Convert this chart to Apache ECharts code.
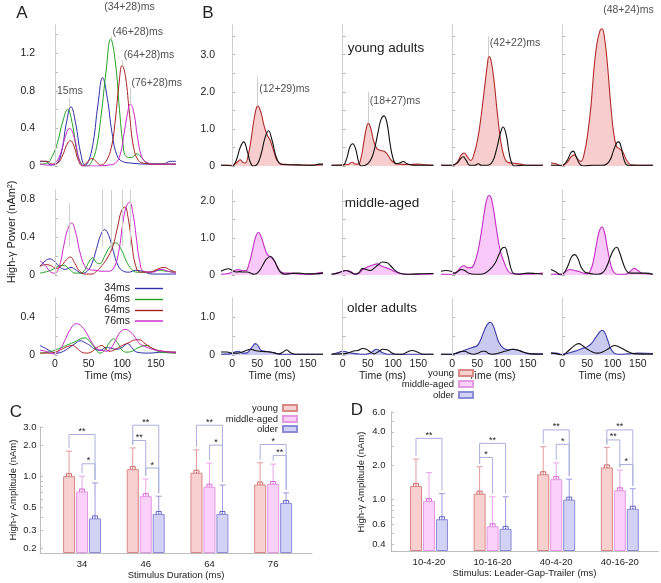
<!DOCTYPE html>
<html><head><meta charset="utf-8">
<script src="https://cdn.jsdelivr.net/npm/echarts@6/dist/echarts.min.js"></script>
<style>html,body{margin:0;padding:0;background:#fff}#c{width:661px;height:583px}</style>
</head><body><div id="c"></div>
<script>
// ---------------- DATA ----------------
const T_MIN = -22, T_MAX = 180;
const TIME_LABELS = [0, 50, 100, 150];
const A_NAMES = ['34ms', '46ms', '64ms', '76ms'];
const A_MAX = [1.5, 0.9, 0.6];
const A_YTICKS = [[0,0.2,0.4,0.6,0.8,1.0,1.2,1.4],[0,0.2,0.4,0.6,0.8],[0,0.2,0.4]];
const A_YLABELS = [[0,0.4,0.8,1.2],[0,0.4,0.8],[0,0.4]];
const B_MAX = [3.8, 2.3, 1.5];
const B_YTICKS = [[0,0.5,1,1.5,2,2.5,3,3.5],[0,0.5,1,1.5,2],[0,0.5,1]];
const B_YLABELS = [[0,1,2,3],[0,1,2],[0,1]];
const B_GROUPS = ['young adults', 'middle-aged', 'older adults'];

// Panel A curves [time ms, power]
const A1_34 = [[-22,0.05],[-14,0.05],[-6,0.01],[2,0.02],[10,0.15],[17,0.45],[24,0.63],[31,0.45],[38,0.15],[45,0.01],[50,0.05],[57,0.25],[64,0.65],[71,0.94],[78,0.72],[85,0.35],[92,0.12],[100,0.05],[115,0.03],[140,0.02],[160,0.02],[172,0.05],[180,0.05]];
const A1_46 = [[-22,0.02],[-12,0.03],[-4,0.1],[4,0.25],[11,0.45],[19,0.6],[26,0.45],[33,0.15],[40,0.02],[48,0.0],[55,0.05],[62,0.2],[69,0.55],[76,1.0],[83,1.35],[90,1.1],[96,0.6],[101,0.25],[106,0.1],[114,0.09],[122,0.13],[130,0.08],[138,0.03],[160,0.02],[180,0.02]];
const A1_64 = [[-22,0.05],[-12,0.05],[-4,0.02],[4,0.03],[12,0.12],[18,0.23],[23,0.27],[29,0.2],[35,0.06],[41,0.0],[48,0.04],[55,0.08],[61,0.05],[68,0.01],[76,0.05],[84,0.2],[90,0.5],[95,0.85],[100,1.07],[105,0.95],[111,0.55],[117,0.2],[124,0.06],[132,0.03],[150,0.02],[180,0.02]];
const A1_76 = [[-22,0.02],[-10,0.01],[0,0.03],[8,0.12],[15,0.3],[22,0.4],[29,0.3],[36,0.08],[43,0.0],[60,0.0],[80,0.01],[90,0.03],[97,0.12],[103,0.35],[108,0.56],[112,0.66],[117,0.58],[123,0.3],[129,0.1],[136,0.04],[150,0.02],[180,0.02]];
const A2_34 = [[-22,0.09],[-14,0.15],[-7,0.17],[0,0.14],[8,0.08],[16,0.06],[24,0.08],[32,0.05],[40,0.02],[48,0.04],[55,0.12],[62,0.28],[68,0.42],[74,0.48],[80,0.42],[87,0.25],[94,0.1],[102,0.04],[110,0.03],[120,0.05],[130,0.04],[145,0.01],[180,0.01]];
const A2_46 = [[-22,0.02],[-10,0.04],[0,0.07],[8,0.1],[14,0.1],[22,0.06],[30,0.02],[38,0.02],[45,0.06],[50,0.13],[56,0.18],[62,0.13],[67,0.12],[74,0.2],[82,0.3],[90,0.34],[98,0.28],[106,0.15],[114,0.06],[122,0.03],[140,0.03],[155,0.05],[165,0.04],[180,0.03]];
const A2_64 = [[-22,0.09],[-14,0.11],[-6,0.1],[2,0.07],[10,0.1],[17,0.16],[23,0.19],[30,0.12],[37,0.04],[45,0.01],[55,0.01],[62,0.04],[70,0.1],[78,0.18],[86,0.3],[93,0.5],[99,0.68],[104,0.72],[109,0.6],[114,0.35],[120,0.1],[127,0.03],[140,0.03],[152,0.06],[162,0.08],[172,0.05],[180,0.03]];
const A2_76 = [[-22,0.15],[-14,0.1],[-6,0.03],[0,0.02],[7,0.1],[13,0.3],[19,0.48],[25,0.55],[31,0.45],[37,0.25],[44,0.1],[50,0.06],[60,0.05],[70,0.04],[80,0.04],[88,0.08],[95,0.25],[101,0.55],[106,0.72],[111,0.77],[116,0.65],[121,0.4],[126,0.15],[132,0.04],[145,0.03],[158,0.06],[168,0.04],[180,0.02]];
const A3_34 = [[-22,0.1],[-14,0.07],[-6,0.04],[2,0.02],[10,0.03],[20,0.07],[30,0.12],[38,0.15],[45,0.13],[52,0.1],[60,0.06],[68,0.05],[76,0.08],[84,0.07],[92,0.06],[100,0.08],[108,0.12],[114,0.08],[122,0.03],[140,0.02],[160,0.03],[180,0.03]];
const A3_46 = [[-22,0.02],[-10,0.03],[0,0.05],[10,0.08],[20,0.11],[30,0.14],[38,0.17],[45,0.18],[52,0.14],[60,0.07],[67,0.02],[74,0.05],[81,0.13],[87,0.17],[93,0.13],[100,0.05],[107,0.03],[115,0.04],[125,0.08],[137,0.1],[147,0.06],[158,0.03],[180,0.02]];
const A3_64 = [[-22,0.02],[-10,0.02],[0,0.03],[10,0.06],[19,0.09],[26,0.1],[33,0.07],[40,0.03],[48,0.02],[56,0.04],[63,0.08],[70,0.1],[76,0.06],[82,0.04],[90,0.06],[100,0.1],[110,0.13],[120,0.16],[126,0.16],[134,0.12],[145,0.07],[160,0.04],[180,0.03]];
const A3_76 = [[-22,0.05],[-14,0.04],[-6,0.02],[0,0.01],[8,0.06],[16,0.17],[24,0.28],[32,0.33],[40,0.3],[48,0.22],[56,0.12],[64,0.06],[70,0.05],[76,0.04],[82,0.06],[90,0.15],[97,0.24],[104,0.27],[111,0.25],[118,0.2],[126,0.12],[134,0.09],[145,0.06],[160,0.04],[180,0.02]];

// Panel A annotations (latency lines)
const A_ANN_TEXT = ['15ms', '(34+28)ms', '(46+28)ms', '(64+28)ms', '(76+28)ms'];
const A_ANN_T = [21.5, 71.1, 83.5, 100.3, 111.7];
const A_ANN_LINE = [[0.63,0.73],[0.94,1.77],[1.35,1.38],[1.07,1.13],[0.66,0.83]];
const A_ANN_LABEL_T = [22.3, 71.1, 83.5, 100.3, 111.7];
const A_ANN_LABEL_V = [0.80, 1.69, 1.42, 1.18, 0.88];
const A2_LAT_T = [21.5, 71.1, 83.5, 100.3, 111.7];
const A2_LAT_V = [[0.3,0.76],[0.3,0.9],[0.3,0.9],[0.3,0.9],[0.3,0.9]];

// Panel B curves: colored (group) and black
const B1c1_col = [[-22,0.02],[0,0.02],[10,0.1],[16,0.17],[21,0.1],[26,0.08],[32,0.3],[38,0.75],[44,1.3],[51,1.62],[57,1.45],[63,1.1],[69,0.85],[75,0.7],[82,0.42],[89,0.15],[97,0.06],[110,0.04],[140,0.02],[180,0.03]];
const B1c1_blk = [[-22,0.02],[-10,0.02],[0,0.0],[8,0.15],[16,0.5],[23,0.65],[30,0.4],[36,0.1],[42,0.0],[50,0.05],[58,0.35],[65,0.75],[72,0.95],[79,0.7],[86,0.3],[93,0.08],[100,0.04],[130,0.03],[160,0.02],[172,0.05],[180,0.05]];
const B1c2_col = [[-22,0.02],[10,0.04],[19,0.1],[25,0.05],[31,0.05],[37,0.25],[42,0.65],[47,1.02],[51,1.15],[56,1.0],[62,0.65],[68,0.47],[75,0.42],[82,0.4],[88,0.33],[95,0.18],[103,0.08],[112,0.05],[130,0.04],[150,0.05],[165,0.03],[180,0.02]];
const B1c2_blk = [[-22,0.02],[0,0.02],[8,0.2],[14,0.5],[20,0.6],[26,0.45],[32,0.1],[37,0.0],[45,0.02],[55,0.15],[63,0.45],[70,0.9],[76,1.25],[82,1.35],[88,1.15],[94,0.6],[100,0.2],[106,0.06],[113,0.08],[120,0.12],[128,0.06],[140,0.02],[180,0.02]];
const B1c3_col = [[-22,0.02],[0,0.02],[10,0.1],[18,0.3],[24,0.35],[30,0.25],[37,0.15],[44,0.35],[51,0.75],[58,1.4],[65,2.2],[70,2.75],[73,2.95],[77,2.85],[83,2.3],[89,1.5],[96,0.7],[103,0.25],[110,0.1],[120,0.08],[135,0.05],[150,0.02],[180,0.02]];
const B1c3_blk = [[-22,0.02],[0,0.02],[10,0.08],[17,0.2],[22,0.25],[28,0.15],[35,0.02],[45,0.02],[52,0.06],[58,0.02],[70,0.02],[80,0.12],[88,0.45],[95,0.85],[101,1.05],[107,0.85],[113,0.35],[119,0.05],[125,0.0],[140,0.02],[180,0.02]];
const B1c4_col = [[-22,0.08],[-12,0.06],[-2,0.0],[10,0.1],[18,0.25],[24,0.3],[30,0.2],[37,0.12],[44,0.35],[51,0.9],[57,1.6],[63,2.6],[69,3.3],[75,3.65],[79,3.7],[84,3.45],[90,2.7],[96,1.7],[102,0.9],[108,0.52],[114,0.46],[120,0.38],[128,0.15],[137,0.03],[150,0.02],[180,0.02]];
const B1c4_blk = [[-22,0.02],[0,0.02],[10,0.15],[17,0.35],[22,0.4],[28,0.25],[35,0.05],[42,0.0],[60,0.02],[80,0.02],[93,0.12],[102,0.42],[108,0.62],[112,0.65],[117,0.5],[123,0.15],[130,0.02],[150,0.02],[180,0.02]];
const B2c1_col = [[-22,0.02],[-8,0.04],[4,0.11],[12,0.15],[20,0.12],[27,0.12],[33,0.28],[40,0.65],[46,1.0],[52,1.15],[58,1.02],[64,0.75],[70,0.55],[77,0.48],[84,0.38],[90,0.22],[97,0.08],[105,0.05],[120,0.05],[140,0.02],[160,0.03],[172,0.06],[180,0.07]];
const B2c1_blk = [[-22,0.1],[-14,0.15],[-7,0.17],[0,0.13],[8,0.08],[15,0.09],[22,0.08],[30,0.08],[37,0.05],[44,0.02],[52,0.08],[60,0.25],[68,0.43],[76,0.5],[83,0.4],[90,0.2],[97,0.06],[105,0.02],[118,0.04],[132,0.05],[148,0.03],[165,0.03],[180,0.05]];
const B2c2_col = [[-22,0.02],[-10,0.06],[0,0.1],[6,0.12],[15,0.1],[25,0.03],[32,0.05],[40,0.15],[50,0.22],[60,0.27],[68,0.3],[76,0.25],[85,0.2],[95,0.15],[105,0.08],[115,0.04],[130,0.02],[160,0.02],[180,0.03]];
const B2c2_blk = [[-22,0.02],[-10,0.05],[0,0.1],[6,0.12],[15,0.08],[25,0.02],[32,0.06],[40,0.18],[47,0.15],[55,0.12],[62,0.18],[70,0.27],[79,0.35],[87,0.34],[95,0.25],[105,0.11],[115,0.04],[125,0.02],[150,0.03],[180,0.04]];
const B2c3_col = [[-22,0.02],[0,0.02],[10,0.1],[18,0.22],[24,0.25],[30,0.2],[38,0.2],[45,0.35],[52,0.7],[59,1.25],[65,1.8],[70,2.1],[74,2.15],[78,2.05],[84,1.6],[90,1.05],[96,0.62],[102,0.38],[109,0.15],[117,0.04],[135,0.03],[160,0.03],[180,0.05]];
const B2c3_blk = [[-22,0.1],[-12,0.12],[-2,0.1],[5,0.05],[12,0.1],[18,0.15],[25,0.12],[33,0.05],[45,0.02],[55,0.02],[65,0.05],[75,0.15],[85,0.32],[93,0.56],[99,0.72],[104,0.75],[110,0.55],[116,0.2],[122,0.04],[130,0.02],[150,0.05],[165,0.04],[180,0.02]];
const B2c4_col = [[-22,0.02],[0,0.03],[8,0.1],[15,0.15],[25,0.12],[32,0.1],[40,0.06],[50,0.03],[57,0.15],[63,0.45],[69,0.9],[74,1.2],[79,1.3],[84,1.15],[90,0.7],[96,0.3],[102,0.08],[110,0.02],[125,0.02],[135,0.1],[143,0.18],[150,0.12],[160,0.04],[180,0.02]];
const B2c4_blk = [[-22,0.15],[-12,0.08],[-2,0.0],[6,0.1],[13,0.3],[19,0.5],[25,0.55],[31,0.45],[38,0.2],[45,0.08],[52,0.05],[60,0.03],[70,0.02],[80,0.06],[88,0.22],[95,0.47],[102,0.68],[108,0.75],[114,0.6],[120,0.35],[127,0.12],[134,0.05],[150,0.05],[165,0.05],[180,0.02]];
const B3c1_col = [[-22,0.02],[-5,0.03],[5,0.08],[13,0.1],[20,0.05],[28,0.05],[36,0.15],[42,0.25],[46,0.3],[51,0.25],[58,0.12],[66,0.1],[75,0.08],[85,0.05],[95,0.02],[110,0.02],[140,0.02],[180,0.02]];
const B3c1_blk = [[-22,0.08],[-10,0.08],[0,0.05],[10,0.05],[20,0.08],[30,0.13],[36,0.15],[45,0.12],[55,0.1],[65,0.09],[75,0.08],[85,0.05],[93,0.03],[100,0.07],[108,0.13],[116,0.06],[125,0.02],[140,0.02],[160,0.02],[180,0.02]];
const B3c2_col = [[-22,0.02],[-10,0.06],[0,0.1],[8,0.08],[18,0.05],[30,0.03],[45,0.02],[55,0.05],[62,0.12],[67,0.15],[73,0.12],[80,0.05],[90,0.02],[120,0.02],[180,0.02]];
const B3c2_blk = [[-22,0.02],[-5,0.03],[10,0.05],[20,0.1],[30,0.12],[40,0.17],[47,0.15],[55,0.08],[62,0.03],[70,0.08],[80,0.15],[88,0.14],[97,0.06],[105,0.02],[118,0.02],[128,0.08],[138,0.12],[148,0.08],[160,0.02],[180,0.02]];
const B3c3_col = [[-22,0.02],[0,0.02],[10,0.06],[20,0.1],[30,0.15],[40,0.2],[50,0.25],[58,0.45],[66,0.72],[72,0.84],[76,0.86],[81,0.78],[87,0.55],[93,0.32],[100,0.2],[110,0.14],[120,0.15],[132,0.12],[145,0.06],[160,0.03],[180,0.03]];
const B3c3_blk = [[-22,0.02],[0,0.02],[10,0.05],[18,0.09],[25,0.1],[33,0.05],[42,0.02],[52,0.05],[60,0.1],[65,0.1],[72,0.04],[80,0.02],[90,0.04],[100,0.08],[110,0.12],[120,0.15],[128,0.14],[140,0.08],[155,0.03],[180,0.02]];
const B3c4_col = [[-22,0.05],[-12,0.05],[0,0.02],[10,0.04],[20,0.08],[30,0.12],[40,0.17],[50,0.22],[58,0.3],[66,0.45],[73,0.58],[79,0.65],[84,0.6],[90,0.4],[96,0.18],[103,0.05],[112,0.02],[130,0.03],[150,0.05],[180,0.04]];
const B3c4_blk = [[-22,0.05],[-10,0.03],[0,0.0],[10,0.08],[20,0.2],[28,0.28],[33,0.3],[40,0.25],[50,0.15],[60,0.08],[70,0.05],[80,0.08],[90,0.15],[98,0.22],[104,0.25],[112,0.22],[122,0.15],[132,0.08],[145,0.03],[180,0.02]];

// Panel B annotations (young adults row)
const B_ANN_TEXT = ['(12+29)ms', '(18+27)ms', '(42+22)ms', '(48+24)ms'];
const B_ANN_T = [50.7, 50.9, 71.7, 78.4];
const B_ANN_LINE = [[1.62,2.41],[1.15,2.0],[2.95,3.49],[3.7,4.47]];
const B_ANN_LABEL_V = [2.07, 1.76, 3.31, 4.19];

// Panel C (log scale bars)
const C_CATS = ['34', '46', '64', '76'];
const C_YOUNG = [1.0, 1.17, 1.08, 0.83];
const C_YOUNG_ERR = [1.75, 1.88, 1.8, 1.35];
const C_MIDDLE = [0.71, 0.64, 0.79, 0.84];
const C_MIDDLE_ERR = [1.0, 0.94, 1.34, 1.31];
const C_OLDER = [0.39, 0.43, 0.43, 0.55];
const C_OLDER_ERR = [0.86, 0.64, 0.82, 0.69];
const C_SIG = [['*','**','*'],['**','**','ns'],['**','**','ns'],['*','**','*']];
const C_BRACKETS = [[1,0,2,2.54,'**'],[1,1,2,1.32,'*'],[2,0,2,3.12,'**'],[2,0,1,2.22,'**'],[2,1,2,1.2,'*'],[3,0,2,3.12,'**'],[3,1,2,2.0,'*'],[4,0,2,2.03,'*'],[4,1,2,1.59,'**']];
const C_YTICKS = [0.2,0.3,0.4,0.5,0.6,0.7,0.8,0.9,1,2,3];
const C_YLABELS = [0.2,0.3,0.5,1,2,3];

// Panel D (log scale bars)
const D_CATS = ['10-4-20', '10-16-20', '40-4-20', '40-16-20'];
const D_YOUNG = [1.32, 1.13, 1.68, 1.93];
const D_YOUNG_ERR = [2.29, 1.96, 2.95, 2.91];
const D_MIDDLE = [0.97, 0.58, 1.52, 1.21];
const D_MIDDLE_ERR = [1.74, 1.06, 2.12, 1.83];
const D_OLDER = [0.67, 0.55, 1.0, 0.83];
const D_OLDER_ERR = [1.13, 1.06, 1.52, 1.25];
const D_SIG = [['**','*','ns'],['*','ns','ns'],['**','**','**'],['**','**','**']];
const D_BRACKETS = [[1,0,2,3.5,'**'],[2,0,2,3.16,'**'],[2,0,1,2.37,'*'],[3,0,2,4.16,'**'],[3,1,2,3.1,'*'],[4,0,2,4.16,'**'],[4,0,1,3.39,'**'],[4,1,2,2.05,'*']];
const D_YTICKS = [0.4,0.5,0.6,0.7,0.8,0.9,1,2,3,4,5,6];
const D_YLABELS = [0.4,0.6,1,2,4,6];

// ---------------- STYLE / LAYOUT ----------------
const FONT = '"Liberation Sans", Arial, Helvetica, sans-serif';
const TXT = '#222';
const ROWS = [{top:25,height:141},{top:190,height:85},{top:298,height:57}];
const A_LEFT = 40, A_W = 136;
const B_LEFTS = [221, 331.5, 441, 551], B_W = 102;
const A_COLORS = ['#2e2ea6', '#22a022', '#a82222', '#c824c8'];
const B_STYLE = [{line:'#b02c2c', fill:'#f8cdcd'}, {line:'#c22fc2', fill:'#f9caf9'}, {line:'#3a3aa8', fill:'#cacaf1'}];
const AGE = [
  {name:'young', fill:'#f9d0d0', border:'#d98888', errc:'#e39a9a', mk:'#d06262'},
  {name:'middle-aged', fill:'#fbd0fb', border:'#e29ae2', errc:'#e8a4e8', mk:'#d862d8'},
  {name:'older', fill:'#d2d2f6', border:'#8c8cd8', errc:'#9a9ae0', mk:'#6262c8'}
];
const BAR_STEP = 13;
const BR_COLOR = '#aab0dc';
const GRAY_LINE = '#cfcfcf';

const grids = [], xAxes = [], yAxes = [], series = [], legends = [], graphics = [];
const fmtY = v => (Math.abs(v) < 1e-9 ? '0' : v.toFixed(1));

function addGrid(left, top, width, height) { grids.push({left, top, width, height}); return grids.length - 1; }

function addTimePanel(left, width, row, ymax, yticks, ylabels, showY, showX, ymargin) {
  const gi = addGrid(left, ROWS[row].top, width, ROWS[row].height);
  xAxes.push({gridIndex: gi, type: 'value', min: T_MIN, max: T_MAX,
    axisLine: {show: false}, axisTick: {show: false}, splitLine: {show: false},
    axisLabel: {show: showX, customValues: TIME_LABELS, fontSize: 10.5, color: TXT, fontFamily: FONT, margin: 4},
    name: showX ? 'Time (ms)' : '', nameLocation: 'middle', nameGap: 16,
    nameTextStyle: {fontSize: 10.5, color: TXT, fontFamily: FONT}});
  yAxes.push({gridIndex: gi, type: 'value', min: 0, max: ymax,
    axisLine: {show: true, lineStyle: {color: '#c8c8c8', width: 1}},
    axisTick: {show: true, inside: true, length: 3, customValues: yticks, lineStyle: {color: '#b4b4b4'}},
    splitLine: {show: false},
    axisLabel: {show: showY, customValues: ylabels, formatter: fmtY, fontSize: 10.5, color: TXT, fontFamily: FONT, margin: ymargin}});
  return gi;
}

function lineS(gi, data, color, extra) {
  return Object.assign({type: 'line', xAxisIndex: gi, yAxisIndex: gi, data: data, smooth: 0.45,
    symbol: 'none', showSymbol: false, lineStyle: {color: color, width: 1}, itemStyle: {color: color},
    silent: true, emphasis: {disabled: true}, animation: false}, extra || {});
}
function vlines(items) {
  return {silent: true, symbol: ['none', 'none'], animation: false, label: {show: false},
    emphasis: {disabled: true}, lineStyle: {color: GRAY_LINE, type: 'solid', width: 1}, data: items};
}
function annScatter(gi, items) {
  return {type: 'scatter', xAxisIndex: gi, yAxisIndex: gi, clip: false, symbol: 'circle', symbolSize: 0,
    silent: true, animation: false, itemStyle: {color: 'rgba(0,0,0,0)'},
    label: {show: true, formatter: '{b}', position: 'right', distance: 1.5, fontSize: 10.5, color: TXT, fontFamily: FONT},
    data: items};
}

// ---------------- PANEL A ----------------
const A_DATA = [[A1_34, A1_46, A1_64, A1_76], [A2_34, A2_46, A2_64, A2_76], [A3_34, A3_46, A3_64, A3_76]];
for (let r = 0; r < 3; r++) {
  const gi = addTimePanel(A_LEFT, A_W, r, A_MAX[r], A_YTICKS[r], A_YLABELS[r], true, r === 2, 5);
  let marks = [{xAxis: 0}];
  if (r === 0) {
    A_ANN_T.forEach((t, k) => marks.push([{coord: [t, A_ANN_LINE[k][0]]}, {coord: [t, A_ANN_LINE[k][1]]}]));
  } else if (r === 1) {
    A2_LAT_T.forEach((t, k) => marks.push([{coord: [t, A2_LAT_V[k][0]]}, {coord: [t, A2_LAT_V[k][1]]}]));
  }
  series.push({type: 'line', xAxisIndex: gi, yAxisIndex: gi, data: [], symbol: 'none', silent: true, markLine: vlines(marks)});
  A_DATA[r].forEach((d, k) => series.push(lineS(gi, d, A_COLORS[k], {name: A_NAMES[k]})));
  if (r === 0) {
    series.push(annScatter(gi, A_ANN_TEXT.map((txt, k) => {
      const it = {name: txt, value: [A_ANN_LABEL_T[k], A_ANN_LABEL_V[k]]};
      if (k === 0) it.label = {position: 'inside'};
      return it;
    })));
  }
}

// ---------------- PANEL B ----------------
const B_COL = [[B1c1_col, B1c2_col, B1c3_col, B1c4_col], [B2c1_col, B2c2_col, B2c3_col, B2c4_col], [B3c1_col, B3c2_col, B3c3_col, B3c4_col]];
const B_BLK = [[B1c1_blk, B1c2_blk, B1c3_blk, B1c4_blk], [B2c1_blk, B2c2_blk, B2c3_blk, B2c4_blk], [B3c1_blk, B3c2_blk, B3c3_blk, B3c4_blk]];
for (let r = 0; r < 3; r++) {
  for (let c = 0; c < 4; c++) {
    const gi = addTimePanel(B_LEFTS[c], B_W, r, B_MAX[r], B_YTICKS[r], B_YLABELS[r], c === 0, r === 2, 6);
    const marks = [{xAxis: 0}];
    if (r === 0) marks.push([{coord: [B_ANN_T[c], B_ANN_LINE[c][0]]}, {coord: [B_ANN_T[c], B_ANN_LINE[c][1]]}]);
    series.push({type: 'line', xAxisIndex: gi, yAxisIndex: gi, data: [], symbol: 'none', silent: true, markLine: vlines(marks)});
    series.push(lineS(gi, B_COL[r][c], B_STYLE[r].line, {areaStyle: {color: B_STYLE[r].fill, opacity: 1}, lineStyle: {color: B_STYLE[r].line, width: 1.1}}));
    series.push(lineS(gi, B_BLK[r][c], '#111', {lineStyle: {color: '#111', width: 1.1}}));
    if (r === 0) {
      series.push(annScatter(gi, [{name: B_ANN_TEXT[c], value: [B_ANN_T[c], B_ANN_LABEL_V[c]]}]));
    }
  }
}

// ---------------- PANELS C & D ----------------
function addBarPanel(cfg) {
  const gi = addGrid(cfg.left, cfg.top, cfg.width, cfg.height);
  const tf = v => Math.log10(v / cfg.ymin);
  xAxes.push({gridIndex: gi, type: 'value', min: cfg.xmin, max: cfg.xmax,
    axisLine: {show: true, lineStyle: {color: '#bdbdbd'}}, axisTick: {show: false}, splitLine: {show: false},
    axisLabel: {customValues: [1, 2, 3, 4], formatter: v => cfg.cats[Math.round(v) - 1], fontSize: 9.5, color: TXT, fontFamily: FONT, margin: 6},
    name: cfg.xname, nameLocation: 'middle', nameGap: 15, nameTextStyle: {fontSize: 9.5, color: TXT, fontFamily: FONT}});
  yAxes.push({gridIndex: gi, type: 'value', min: 0, max: tf(cfg.ymax),
    axisLine: {show: true, lineStyle: {color: '#bdbdbd'}},
    axisTick: {show: true, inside: true, length: 3, customValues: cfg.yticks.map(tf), lineStyle: {color: '#bdbdbd'}},
    splitLine: {show: false},
    axisLabel: {customValues: cfg.ylabels.map(tf), formatter: u => (cfg.ymin * Math.pow(10, u)).toFixed(1), fontSize: 9.5, color: TXT, fontFamily: FONT, margin: cfg.ymargin}});
  const vals = [cfg.young, cfg.middle, cfg.older];
  const errs = [cfg.youngErr, cfg.middleErr, cfg.olderErr];
  AGE.forEach((g, i) => {
    series.push({type: 'bar', name: g.name, xAxisIndex: gi, yAxisIndex: gi, barWidth: 12, barGap: '8%',
      data: vals[i].map((v, k) => [k + 1, tf(v)]), silent: true, emphasis: {disabled: true}, animation: false,
      itemStyle: {color: g.fill, borderColor: g.border, borderWidth: 1}});
  });
  const errRows = [];
  vals.forEach((arr, i) => arr.forEach((v, k) => errRows.push([k + 1, tf(v), i, tf(errs[i][k])])));
  series.push({type: 'custom', xAxisIndex: gi, yAxisIndex: gi, silent: true, animation: false, encode: {x: 0, y: 1},
    data: errRows,
    renderItem: (params, api) => {
      const x = api.value(0), m = api.value(1), i = api.value(2), e = api.value(3);
      const pm = api.coord([x, m]), pe = api.coord([x, e]);
      const cx = pm[0] + (i - 1) * BAR_STEP;
      const g = AGE[i];
      return {type: 'group', children: [
        {type: 'line', shape: {x1: cx, y1: pm[1], x2: cx, y2: pe[1]}, style: {stroke: g.errc, lineWidth: 1}},
        {type: 'line', shape: {x1: cx - 3, y1: pe[1], x2: cx + 3, y2: pe[1]}, style: {stroke: g.errc, lineWidth: 1}},
        {type: 'rect', shape: {x: cx - 2.5, y: pm[1] - 2.5, width: 5, height: 5}, style: {stroke: g.mk, fill: 'rgba(0,0,0,0)', lineWidth: 1}},
        {type: 'circle', shape: {cx: cx, cy: pm[1], r: 0.8}, style: {fill: g.mk}}
      ]};
    }});
  series.push({type: 'custom', xAxisIndex: gi, yAxisIndex: gi, silent: true, animation: false, encode: {x: 0, y: 1},
    data: cfg.brackets.map(b => [b[0], tf(b[3])]),
    renderItem: (params, api) => {
      const br = cfg.brackets[params.dataIndex];
      const x = br[0], a = br[1], b = br[2];
      const ph = api.coord([x, api.value(1)]);
      const xa = ph[0] + (a - 1) * BAR_STEP, xb = ph[0] + (b - 1) * BAR_STEP;
      const ya = api.coord([x, tf(errs[a][x - 1])])[1] - 3;
      const yb = api.coord([x, tf(errs[b][x - 1])])[1] - 3;
      return {type: 'group', children: [
        {type: 'polyline', shape: {points: [[xa, ya], [xa, ph[1]], [xb, ph[1]], [xb, yb]]}, style: {stroke: BR_COLOR, fill: null, lineWidth: 1}},
        {type: 'text', x: (xa + xb) / 2, y: ph[1] - 3, style: {text: br[4], align: 'center', verticalAlign: 'middle', fontSize: 9, fill: TXT, fontFamily: FONT}}
      ]};
    }});
  const sigRows = [];
  cfg.sig.forEach((row, k) => row.forEach((s, i) => sigRows.push([k + 1, 0, i])));
  series.push({type: 'custom', xAxisIndex: gi, yAxisIndex: gi, silent: true, animation: false, encode: {x: 0, y: 1},
    data: sigRows,
    renderItem: (params, api) => {
      const x = api.value(0), i = api.value(2);
      const lab = cfg.sig[x - 1][i];
      const p = api.coord([x, 0]);
      const isNs = lab === 'ns';
      return {type: 'text', x: p[0] + (i - 1) * BAR_STEP, y: p[1] - (isNs ? cfg.nsOff : cfg.starOff),
        style: {text: lab, align: 'center', verticalAlign: 'middle', fontSize: isNs ? 11 : 9, fill: TXT, fontFamily: FONT}};
    }});
  AGE.forEach((g, i) => legends.push({data: [g.name], orient: 'vertical', align: 'right', right: cfg.legRight,
    top: cfg.legY[i] - 5, padding: 0, icon: 'rect', itemWidth: 14, itemHeight: 6, selectedMode: false,
    textStyle: {fontSize: 9.5, color: TXT, fontFamily: FONT}}));
}

addBarPanel({left: 40, top: 427, width: 272, height: 126, xmin: 0.34, xmax: 4.61, ymin: 0.18, ymax: 3.0,
  cats: C_CATS, xname: 'Stimulus Duration (ms)', yticks: C_YTICKS, ylabels: C_YLABELS, ymargin: 3.5,
  young: C_YOUNG, youngErr: C_YOUNG_ERR, middle: C_MIDDLE, middleErr: C_MIDDLE_ERR, older: C_OLDER, olderErr: C_OLDER_ERR,
  sig: C_SIG, brackets: C_BRACKETS, nsOff: 8, starOff: 5, legRight: 363, legY: [408, 419, 429]});
addBarPanel({left: 391, top: 412, width: 267, height: 139, xmin: 0.403, xmax: 4.6, ymin: 0.35, ymax: 6.0,
  cats: D_CATS, xname: 'Stimulus: Leader-Gap-Trailer (ms)', yticks: D_YTICKS, ylabels: D_YLABELS, ymargin: 5.5,
  young: D_YOUNG, youngErr: D_YOUNG_ERR, middle: D_MIDDLE, middleErr: D_MIDDLE_ERR, older: D_OLDER, olderErr: D_OLDER_ERR,
  sig: D_SIG, brackets: D_BRACKETS, nsOff: 10, starOff: 7, legRight: 187, legY: [373, 384, 395]});

// Legend for panel A (thin line-like icons)
const A_LEG_Y = [288.5, 299.5, 310.5, 321];
A_NAMES.forEach((n, k) => legends.push({data: [n], orient: 'vertical', align: 'right', right: 498, top: A_LEG_Y[k] - 5.5,
  padding: 0, icon: 'rect', itemWidth: 28, itemHeight: 1.4, selectedMode: false,
  textStyle: {fontSize: 10.5, color: TXT, fontFamily: FONT}}));

// ---------------- TEXT ----------------
function txt(text, x, y, size, extra) {
  return Object.assign({type: 'text', x: x, y: y, silent: true,
    style: {text: text, fontSize: size, fontFamily: FONT, fill: TXT, align: 'center', verticalAlign: 'middle'}}, extra || {});
}
graphics.push(txt('A', 22, 13, 17), txt('B', 208, 13, 17), txt('C', 16, 412, 17), txt('D', 357, 410, 17));
graphics.push(txt(B_GROUPS[0], 386, 48, 13.5), txt(B_GROUPS[1], 382, 203, 13.5), txt(B_GROUPS[2], 382, 308, 13.5));
graphics.push(txt('High-γ Power (nAm²)', 12, 232, 11, {rotation: Math.PI / 2}));
graphics.push(txt('High-γ Amplitude (nAm)', 13, 490, 9.5, {rotation: Math.PI / 2}));
graphics.push(txt('High-γ Amplitude (nAm)', 361, 482, 9.5, {rotation: Math.PI / 2}));

const chart = echarts.init(document.getElementById('c'), null, {renderer: 'canvas', width: 661, height: 583});
chart.setOption({
  backgroundColor: '#fff', animation: false, textStyle: {fontFamily: FONT},
  grid: grids, xAxis: xAxes, yAxis: yAxes, series: series, legend: legends, graphic: graphics
});
</script></body></html>
